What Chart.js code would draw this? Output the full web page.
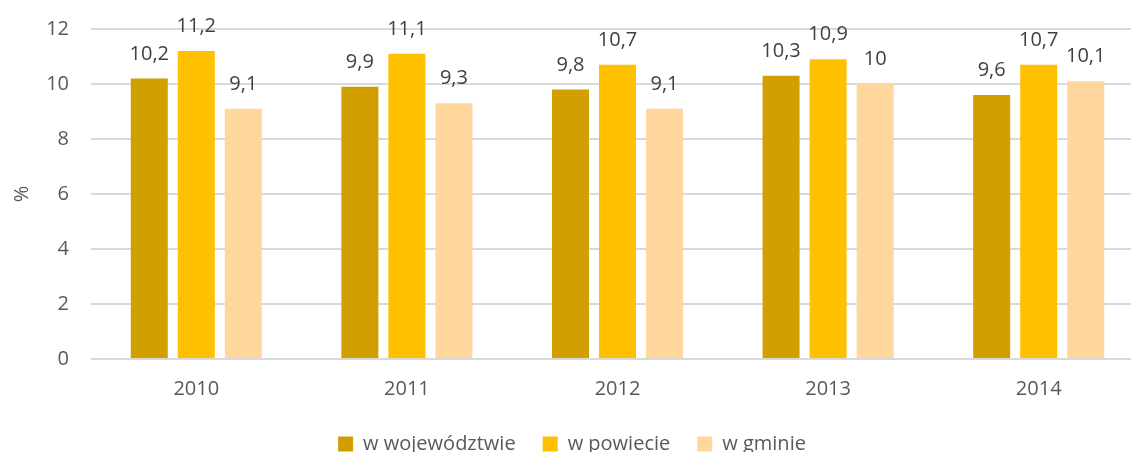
<!DOCTYPE html>
<html>
<head>
<meta charset="utf-8">
<script src="https://cdn.jsdelivr.net/npm/chart.js@4.4.1/dist/chart.umd.min.js"></script>
<style>
html,body{margin:0;padding:0;background:#fff;overflow:hidden;}
#wrap{width:1144px;height:464px;}
</style>
</head>
<body>
<div id="wrap"><canvas id="c" width="1144" height="464"></canvas></div>
<script>
const categories = ['2010','2011','2012','2013','2014'];
const seriesNames = ['w województwie','w powiecie','w gminie'];
const wojewodztwo = [10.2, 9.9, 9.8, 10.3, 9.6];
const powiat = [11.2, 11.1, 10.7, 10.9, 10.7];
const gmina = [9.1, 9.3, 9.1, 10, 10.1];
const yTicks = [0, 2, 4, 6, 8, 10, 12];
const colors = ['#D29F00', '#FFC000', '#FFD79C'];

const FONT = "'Open Sans', 'Liberation Sans', sans-serif";

const labelPlugin = {
  id: 'valueLabels',
  afterDatasetsDraw(chart) {
    const ctx = chart.ctx;
    ctx.save();
    ctx.font = '20px ' + FONT;
    ctx.fillStyle = '#404040';
    ctx.textAlign = 'center';
    ctx.textBaseline = 'alphabetic';
    chart.data.datasets.forEach((ds, i) => {
      const meta = chart.getDatasetMeta(i);
      meta.data.forEach((bar, j) => {
        const txt = String(ds.data[j]).replace('.', ',');
        ctx.fillText(txt, bar.x, bar.y - 19);
      });
    });
    ctx.restore();
  }
};

new Chart(document.getElementById('c'), {
  type: 'bar',
  data: {
    labels: categories,
    datasets: [
      { label: seriesNames[0], data: wojewodztwo, backgroundColor: colors[0] },
      { label: seriesNames[1], data: powiat, backgroundColor: colors[1] },
      { label: seriesNames[2], data: gmina, backgroundColor: colors[2] }
    ]
  },
  options: {
    responsive: false,
    devicePixelRatio: 1,
    animation: false,
    categoryPercentage: 0.67,
    barPercentage: 0.787,
    layout: { padding: { top: 29, left: 0, right: 0, bottom: 0 } },
    plugins: {
      tooltip: { enabled: false },
      legend: {
        position: 'bottom',
        labels: {
          font: { family: FONT, size: 20 },
          color: '#595959',
          boxWidth: 15,
          boxHeight: 15,
          padding: 27
        }
      }
    },
    scales: {
      x: {
        grid: { display: false },
        border: { display: false },
        ticks: { font: { family: FONT, size: 20 }, color: '#595959', padding: 10 },
        afterFit(scale) { scale.height = 48; }
      },
      y: {
        min: 0,
        max: 12,
        afterBuildTicks(scale) { scale.ticks = yTicks.map(v => ({ value: v })); },
        grid: { color: '#D9D9D9', lineWidth: 2, drawTicks: false },
        border: { display: false },
        ticks: { font: { family: FONT, size: 20 }, color: '#595959', padding: 22 },
        title: { display: true, text: '%', font: { family: FONT, size: 20 }, color: '#595959', padding: { top: 10, bottom: 0 } },
        afterFit(scale) { scale.width = 91; scale.paddingTop = 0; scale.paddingBottom = 0; }
      }
    }
  },
  plugins: [labelPlugin]
});
</script>
</body>
</html>
